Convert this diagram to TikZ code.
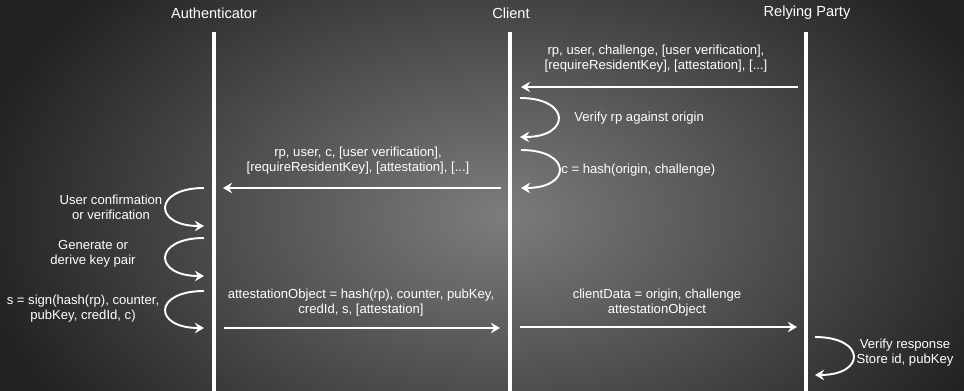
\documentclass[tikz,border=0pt]{standalone}
\usepackage{fontspec}
\setmainfont{Liberation Sans}
\usetikzlibrary{arrows.meta}
\definecolor{bgdark}{HTML}{222222}
\definecolor{bglight}{HTML}{7C7C7C}
\tikzset{
  lifeline/.style = {draw=white, line width=2.3pt},
  msg/.style      = {draw=white, line width=1.1pt, -{Stealth[length=5.2pt, width=6pt, inset=1.8pt]}},
  head/.style     = {text=white, font=\fontsize{8.3}{10}\selectfont},
  et/.style       = {text=white, font=\fontsize{7.45}{8.6}\selectfont, align=center, inner sep=0}
}

\begin{document}
\begin{tikzpicture}[x=0.02cm, y=-0.02cm]
  \useasboundingbox (0,0) rectangle (964,391);
  % background
  \fill[bgdark] (0,0) rectangle (964,391);
  \begin{scope}
    \clip (0,0) rectangle (964,391);
    \shade[inner color=bglight, outer color=bgdark] (500,215) ellipse (530 and 340);
  \end{scope}

  % participants
  \node[head] (auth)   at (214,13) {Authenticator};
  \node[head] (client) at (511,13) {Client};
  \node[head] (rp)     at (807,13) {Relying Party};
  \coordinate (authT) at (214,32);   \coordinate (authB) at (214,391);
  \coordinate (clientT) at (510,32); \coordinate (clientB) at (510,391);
  \coordinate (rpT) at (806,32);     \coordinate (rpB) at (806,391);
  \draw[lifeline] (authT)--(authB);
  \draw[lifeline] (clientT)--(clientB);
  \draw[lifeline] (rpT)--(rpB);

  % rp -> client
  \coordinate (m1s) at (798,87); \coordinate (m1e) at (521,87); \draw[msg] (m1s)--(m1e);
  \node[et] (m1l) at (656,59) {rp, user, challenge, [user verification],\\{}[requireResidentKey], [attestation], [...]};

  % client checks
  \coordinate (c1s) at (520,98);  \coordinate (c1e) at (520,137);
  \draw[msg] (c1s) .. controls +(51,0) and +(51,0) .. (c1e);
  \node[et,anchor=west] (c1l) at (574,118) {Verify rp against origin};
  \coordinate (c2s) at (521,150); \coordinate (c2e) at (521,188);
  \draw[msg] (c2s) .. controls +(51,0) and +(51,0) .. (c2e);
  \node[et,anchor=west] (c2l) at (561,170) {c = hash(origin, challenge)};

  % client -> authenticator
  \coordinate (m2s) at (501,188); \coordinate (m2e) at (223,188); \draw[msg] (m2s)--(m2e);
  \node[et] (m2l) at (358,161) {rp, user, c, [user verification],\\{}[requireResidentKey], [attestation], [...]};

  % authenticator steps
  \coordinate (a1s) at (204,188); \coordinate (a1e) at (204,226);
  \draw[msg] (a1s) .. controls +(-51,0) and +(-51,0) .. (a1e);
  \node[et] (a1l) at (111,207) {User confirmation\\ or verification};
  \coordinate (a2s) at (204,238); \coordinate (a2e) at (204,276);
  \draw[msg] (a2s) .. controls +(-51,0) and +(-51,0) .. (a2e);
  \node[et] (a2l) at (93,254) {Generate or\\ derive key pair};
  \coordinate (a3s) at (204,291); \coordinate (a3e) at (204,328);
  \draw[msg] (a3s) .. controls +(-51,0) and +(-51,0) .. (a3e);
  \node[et] (a3l) at (83,309) {s = sign(hash(rp), counter,\\ pubKey, credId, c)};

  % authenticator -> client -> rp
  \coordinate (m3s) at (224,328); \coordinate (m3e) at (500,328); \draw[msg] (m3s)--(m3e);
  \node[et] (m3l) at (361,303) {attestationObject = hash(rp), counter, pubKey,\\ credId, s, [attestation]};
  \coordinate (m4s) at (520,327); \coordinate (m4e) at (797,327); \draw[msg] (m4s)--(m4e);
  \node[et] (m4l) at (657,303) {clientData = origin, challenge\\ attestationObject};

  % rp checks
  \coordinate (r1s) at (815,337); \coordinate (r1e) at (815,375);
  \draw[msg] (r1s) .. controls +(51,0) and +(51,0) .. (r1e);
  \node[et] (r1l) at (905,353) {Verify response\\ Store id, pubKey};
\end{tikzpicture}
\end{document}
